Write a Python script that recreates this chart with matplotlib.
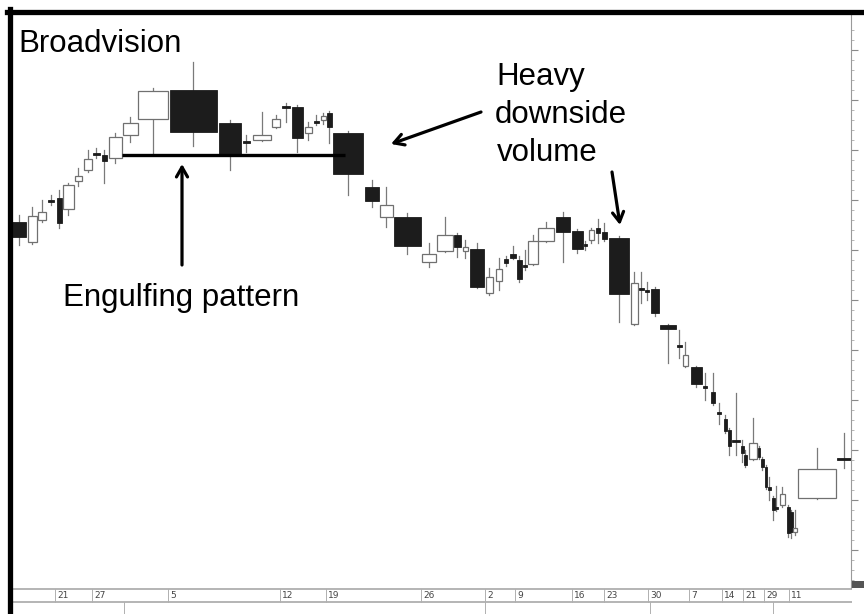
import numpy as np
import matplotlib
matplotlib.use("Agg")
import matplotlib.pyplot as plt
from matplotlib.patches import Rectangle
from matplotlib.lines import Line2D

# candle-volume data: start = cumulative volume at candle start, width = volume
vol_start = [12, 28, 38, 48, 57, 63, 75, 84, 93, 102,
             109, 123, 138, 170, 219, 243, 253, 272, 282, 292,
             305, 314, 321, 327, 333, 365, 380, 394, 422, 437,
             454, 463, 470, 486, 496, 504, 510, 517, 523, 528,
             538, 556, 572, 584, 589, 596, 602, 609, 631, 639,
             645, 651, 660, 677, 683, 691, 703, 711, 717, 724,
             728, 732, 741, 744, 749, 758, 761, 765, 768, 772,
             775, 780, 787, 790, 793, 798, 837]
vol_width = [14, 9, 8, 6, 5, 11, 7, 8, 7, 5,
             13, 15, 30, 47, 22, 7, 18, 8, 8, 11,
             7, 5, 5, 5, 30, 14, 13, 27, 14, 16,
             7, 5, 14, 7, 6, 4, 6, 5, 4, 10,
             16, 14, 11, 3, 5, 4, 5, 20, 7, 5,
             4, 8, 16, 5, 5, 11, 4, 4, 4, 3,
             3, 8, 3, 3, 8, 2, 3, 2, 3, 3,
             3, 5, 3, 3, 4, 38, 14]
opens = [37.8, 35.8, 38.0, 40.0, 40.2, 39.1, 41.9, 43.0, 44.7, 44.5,
         44.2, 46.5, 48.1, 51.0, 47.7, 45.9, 46.0, 47.3, 49.4, 49.3,
         46.7, 47.9, 48.0, 48.7, 46.7, 41.3, 38.3, 38.3, 33.8, 34.9,
         36.5, 34.9, 35.1, 30.7, 31.9, 34.1, 34.6, 34.0, 33.5, 33.6,
         35.9, 38.3, 36.9, 35.6, 36.0, 37.2, 36.8, 36.2, 27.6, 31.2,
         31.0, 31.1, 27.5, 25.5, 23.4, 23.3, 21.4, 20.8, 18.8, 18.1,
         17.0, 16.0, 15.4, 14.5, 14.1, 15.2, 14.1, 13.3, 11.3, 10.2,
         9.3, 9.5, 9.3, 8.8, 6.8, 10.2, 14.2]
highs = [38.5, 39.3, 40.0, 40.5, 41.0, 41.7, 43.2, 45.0, 45.2, 45.0,
         46.7, 48.3, 51.2, 53.8, 48.0, 46.5, 48.8, 48.5, 49.7, 49.5,
         47.8, 48.5, 48.7, 48.9, 46.9, 42.0, 41.3, 38.7, 35.7, 38.3,
         36.7, 36.0, 35.7, 33.2, 34.2, 34.4, 35.4, 34.4, 35.0, 36.5,
         37.8, 38.8, 37.1, 35.9, 37.2, 38.1, 37.7, 36.4, 32.8, 32.8,
         31.8, 31.3, 27.6, 27.0, 25.8, 23.4, 22.7, 22.7, 19.7, 18.5,
         17.2, 20.7, 16.0, 15.0, 18.2, 15.4, 14.3, 13.5, 12.3, 10.4,
         11.4, 11.3, 9.5, 9.0, 9.0, 15.2, 16.7]
lows = [35.5, 35.6, 37.8, 39.5, 37.2, 38.5, 41.4, 42.8, 44.2, 41.7,
        43.7, 45.8, 44.5, 45.4, 43.0, 44.8, 45.9, 47.2, 47.8, 44.8,
        46.0, 47.5, 47.6, 45.7, 40.5, 39.3, 37.3, 34.6, 33.3, 34.8,
        34.3, 34.2, 31.2, 30.5, 31.0, 33.4, 34.1, 31.8, 33.0, 33.5,
        35.8, 33.8, 34.7, 35.0, 35.7, 35.7, 35.9, 27.8, 27.5, 29.7,
        30.0, 28.4, 23.7, 24.2, 23.3, 21.3, 20.0, 19.5, 17.6, 16.7,
        14.5, 14.5, 13.8, 13.3, 14.0, 14.1, 13.0, 11.1, 10.0, 8.0,
        8.9, 9.3, 6.3, 6.2, 6.5, 10.1, 13.2]
closes = [36.3, 38.4, 38.8, 39.8, 37.7, 41.5, 42.4, 44.1, 44.5, 43.9,
          46.3, 47.7, 50.9, 46.8, 44.5, 45.7, 46.5, 48.1, 49.2, 46.2,
          47.3, 47.7, 48.4, 47.3, 42.6, 39.9, 39.5, 35.4, 34.6, 36.5,
          35.3, 35.3, 31.3, 32.3, 33.1, 33.7, 34.2, 32.1, 33.3, 35.9,
          37.2, 36.8, 35.1, 35.4, 37.0, 36.7, 36.1, 30.6, 31.7, 31.0,
          30.8, 28.7, 27.1, 25.3, 24.5, 21.6, 21.2, 19.7, 18.6, 16.9,
          15.4, 15.8, 14.7, 13.5, 15.7, 14.3, 13.3, 11.3, 11.0, 9.0,
          9.1, 10.6, 6.7, 6.8, 7.2, 13.1, 14.0]

date_pos = [55, 92, 168, 280, 326, 421, 485, 515, 572, 604, 648, 689, 722, 743, 764, 789]
date_labels = ["21", "27", "5", "12", "19", "26", "2", "9", "16", "23", "30", "7", "14", "21", "29", "11"]
month_pos = [124, 485, 650, 773]

W, H = 864, 614
fig = plt.figure(figsize=(8.64, 6.14), dpi=100)
fig.patch.set_facecolor("white")

# main price panel
ax = fig.add_axes([12 / W, (H - 588) / H, (851 - 12) / W, (588 - 14) / H])
ax.set_xlim(12, 851)
ax.set_ylim(1.2, 58.6)

for s, w, o, hi, lo, c in zip(vol_start, vol_width, opens, highs, lows, closes):
    xc = s + w / 2
    ax.plot([xc, xc], [lo, hi], color="#7a7a7a", lw=0.9, zorder=1)
    bot = min(o, c)
    hgt = max(abs(c - o), 0.15)
    if c >= o:
        ax.add_patch(Rectangle((s, bot), w, hgt, facecolor="white",
                               edgecolor="#707070", lw=0.9, zorder=2))
    else:
        ax.add_patch(Rectangle((s, bot), w, hgt, facecolor="#1c1c1c",
                               edgecolor="#1c1c1c", lw=0.6, zorder=2))

for sp in ["top", "left", "bottom"]:
    ax.spines[sp].set_visible(False)
ax.spines["right"].set_color("#9a9a9a")
ax.spines["right"].set_linewidth(0.8)
ax.xaxis.set_visible(False)
ax.yaxis.tick_right()
ax.set_yticks(np.arange(5, 58, 5))
ax.set_yticks(np.arange(2, 58, 1), minor=True)
ax.tick_params(axis="y", which="major", length=5, color="#8a8a8a", labelright=False, width=0.8)
ax.tick_params(axis="y", which="minor", length=2.5, color="#aaaaaa", width=0.6)

# annotations
font = ["Liberation Sans", "DejaVu Sans"]
fs = 22.5
ax.text(18, 54.8, "Broadvision", fontsize=fs, family=font, va="baseline", ha="left")
ax.text(63, 29.4, "Engulfing pattern", fontsize=fs, family=font, va="baseline", ha="left")
ax.text(496, 51.5, "Heavy", fontsize=fs, family=font, va="baseline", ha="left")
ax.text(495, 47.7, "downside", fontsize=fs, family=font, va="baseline", ha="left")
ax.text(497, 43.9, "volume", fontsize=fs, family=font, va="baseline", ha="left")

ax.plot([122, 345], [44.5, 44.5], color="black", lw=2.4, zorder=5, solid_capstyle="butt")
arrow = dict(arrowstyle="->,head_length=0.7,head_width=0.4", color="black", lw=2.3,
             shrinkA=0, shrinkB=0)
ax.annotate("", xy=(182, 43.6), xytext=(182, 33.5), arrowprops=arrow)
ax.annotate("", xy=(391, 45.6), xytext=(481, 48.8), arrowprops=arrow)
ax.annotate("", xy=(620, 37.5), xytext=(612, 42.8), arrowprops=arrow)

# date strip
axd = fig.add_axes([12 / W, 0, (852 - 12) / W, (H - 588) / H])
axd.set_xlim(12, 852)
axd.set_ylim(26, 0)
axd.axis("off")
axd.axhline(0.5, color="#a8a8a8", lw=1.2)
axd.axhline(14, color="#a8a8a8", lw=1.2)
for p, lab in zip(date_pos, date_labels):
    axd.plot([p, p], [0.5, 14], color="#b0b0b0", lw=0.7)
    axd.text(p + 2, 7.5, lab, fontsize=6.5, color="#444444", va="center", ha="left",
             family=["Liberation Sans Narrow", "DejaVu Sans"])
for p in month_pos:
    axd.plot([p, p], [14, 26], color="#b0b0b0", lw=0.7)

# outer frame and right tab
fig.add_artist(Line2D([9.5 / W, 9.5 / W], [0, (H - 9) / H], color="black", lw=3.8))
fig.add_artist(Line2D([7 / W, 1], [(H - 11.5) / H, (H - 11.5) / H], color="black", lw=3.8))
fig.add_artist(Rectangle((852 / W, (H - 588) / H), 12 / W, 7 / H, facecolor="#555555",
                         edgecolor="none", transform=fig.transFigure))

fig.savefig("out.png", dpi=100)
